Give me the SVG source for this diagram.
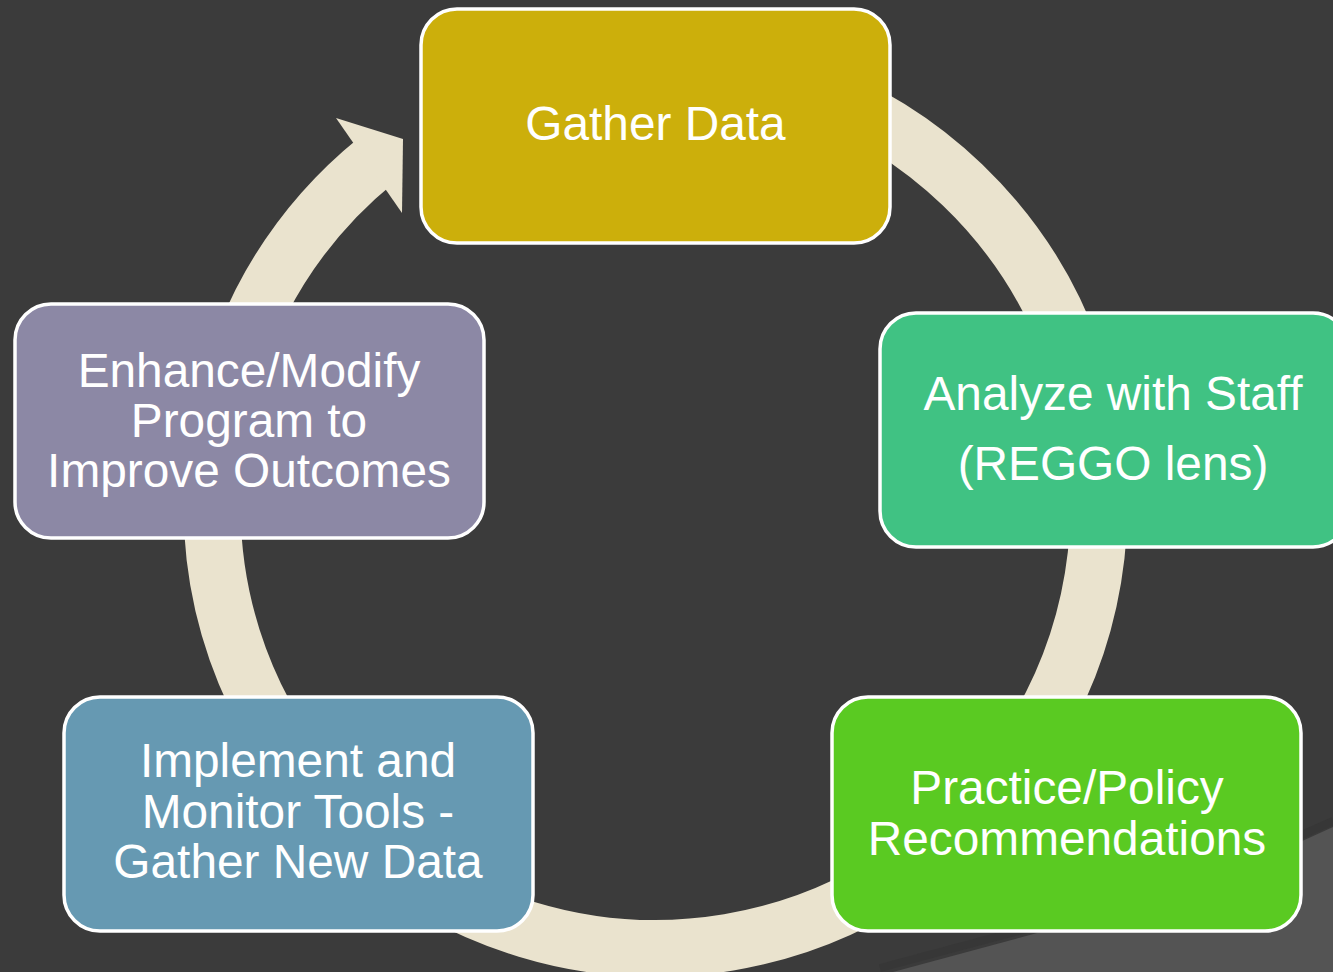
<svg xmlns="http://www.w3.org/2000/svg" width="1333" height="972" viewBox="0 0 1333 972">
  <style>
    .box { stroke: #ffffff; stroke-width: 3.5; }
    .lbl { font-family: "Liberation Sans", Arial, sans-serif; font-size: 47.8px; fill: #ffffff; text-anchor: middle; }
    .ring { fill: none; stroke: #EAE3CE; stroke-width: 57; }
  </style>
  <rect x="0" y="0" width="1333" height="972" fill="#3B3B3B"/>
  <path d="M 893 972 L 1037 933 L 1180 895 L 1300 842 L 1333 827 L 1333 972 Z" fill="#545454"/>
  <path d="M 880 968 L 1030 928 L 1175 890 L 1297 837 L 1333 821" fill="none" stroke="#333333" stroke-width="8" stroke-opacity="0.5"/>

  <g id="connectors">
    <path class="ring" d="M 807.2 88.2 A 443.5 443.5 0 1 1 376.4 160.3"/>
    <polygon points="336,118 403,139 402,213" fill="#EAE3CE"/>
  </g>

  <g id="gather-data">
    <rect class="box" x="421" y="9" width="469" height="234" rx="36" fill="#CCAF0B"/>
    <text class="lbl" x="655.5" y="140">Gather Data</text>
  </g>

  <g id="analyze">
    <rect class="box" x="880" y="313" width="469" height="234" rx="36" fill="#40C283"/>
    <text class="lbl" x="1113" y="410">Analyze with Staff</text>
    <text class="lbl" x="1113" y="480">(REGGO lens)</text>
  </g>

  <g id="practice">
    <rect class="box" x="832" y="697" width="469" height="234" rx="36" fill="#5ACA22"/>
    <text class="lbl" x="1067" y="804">Practice/Policy</text>
    <text class="lbl" x="1067" y="855">Recommendations</text>
  </g>

  <g id="implement">
    <rect class="box" x="64" y="697" width="469" height="234" rx="36" fill="#6699B2"/>
    <text class="lbl" x="298" y="777">Implement and</text>
    <text class="lbl" x="298" y="828">Monitor Tools -</text>
    <text class="lbl" x="298" y="878">Gather New Data</text>
  </g>

  <g id="enhance">
    <rect class="box" x="15" y="304" width="469" height="234" rx="36" fill="#8C88A5"/>
    <text class="lbl" x="249" y="387">Enhance/Modify</text>
    <text class="lbl" x="249" y="437">Program to</text>
    <text class="lbl" x="249" y="487">Improve Outcomes</text>
  </g>
</svg>
